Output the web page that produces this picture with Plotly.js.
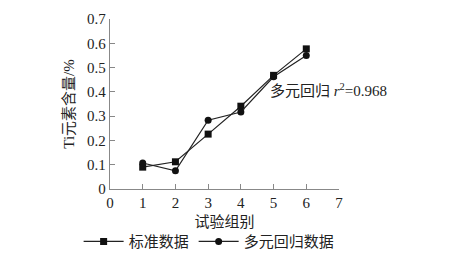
<!DOCTYPE html>
<html><head><meta charset="utf-8">
<script src="https://cdn.plot.ly/plotly-3.0.1.min.js"></script>
<style>html,body{margin:0;padding:0;background:#fff;}#c{width:450px;height:270px;}</style>
</head><body><div id="c"></div>
<script>
const groups = [1, 2, 3, 4, 5, 6];
const standardData = [0.09, 0.112, 0.226, 0.341, 0.468, 0.577];
const regressionData = [0.107, 0.075, 0.283, 0.317, 0.462, 0.55];
const seriesNames = ['标准数据', '多元回归数据'];
const xTitle = '试验组别';
const yTitle = 'Ti元素含量/%';
const noteText = '多元回归 <i>r</i><sup>2</sup>=0.968';

const FONT = '"Liberation Serif", "Times New Roman", "Noto Sans CJK SC", serif';
const traces = [
  {x: groups, y: standardData, name: seriesNames[0], mode: 'lines+markers',
   line: {color: '#222', width: 1.2}, marker: {symbol: 'square', size: 7, color: '#111'}},
  {x: groups, y: regressionData, name: seriesNames[1], mode: 'lines+markers',
   line: {color: '#222', width: 1.2}, marker: {symbol: 'circle', size: 7, color: '#111'}}
];
const layout = {
  width: 450, height: 270,
  margin: {l: 110, r: 111, t: 19, b: 81},
  paper_bgcolor: '#fff', plot_bgcolor: '#fff',
  font: {family: FONT, size: 15, color: '#222'},
  showlegend: true,
  legend: {orientation: 'h', x: -0.137, xanchor: 'left', y: -0.31, yanchor: 'middle',
           font: {family: FONT, size: 15, color: '#222'}, itemwidth: 40, tracegroupgap: 0},
  xaxis: {range: [0, 7], tickvals: [0,1,2,3,4,5,6,7], showgrid: false, zeroline: false,
          showline: true, linecolor: '#888', linewidth: 1.2, ticks: 'inside', ticklen: 5,
          tickcolor: '#888', tickfont: {family: FONT, size: 15, color: '#222'},
          title: {text: xTitle, font: {family: FONT, size: 15, color: '#222'}, standoff: 6}},
  yaxis: {range: [0, 0.7], tickvals: [0,0.1,0.2,0.3,0.4,0.5,0.6,0.7],
          ticktext: ['0','0.1','0.2','0.3','0.4','0.5','0.6','0.7'],
          showgrid: false, zeroline: false,
          showline: true, linecolor: '#888', linewidth: 1.2, ticks: 'inside', ticklen: 5,
          tickcolor: '#888', tickfont: {family: FONT, size: 15, color: '#222'},
          title: {text: yTitle, font: {family: FONT, size: 15, color: '#222'}, standoff: 8}},
  annotations: [{x: 4.83, y: 0.407, xref: 'x', yref: 'y', xanchor: 'left', yanchor: 'middle',
                 text: noteText, showarrow: false, font: {family: FONT, size: 15, color: '#222'}}]
};
Plotly.newPlot('c', traces, layout, {staticPlot: true});
</script></body></html>
